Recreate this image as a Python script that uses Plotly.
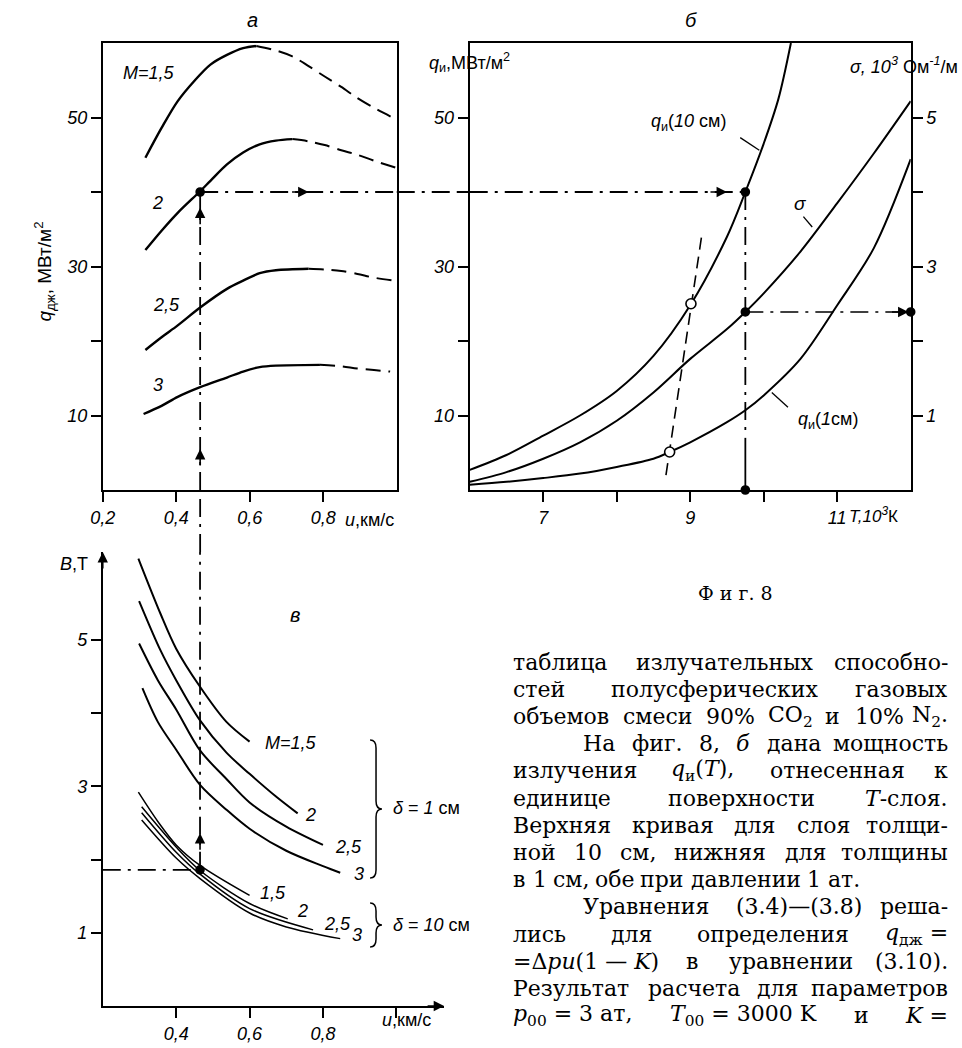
import re
import plotly.graph_objects as go

W, H = 962, 1048

# ---------------- panel а : q_дж (u), M = 1.5, 2, 2.5, 3 ----------------
a_u_m15 = [0.316, 0.360, 0.404, 0.449, 0.493, 0.538, 0.582, 0.618]
a_q_m15 = [44.6, 48.6, 52.2, 54.9, 57.1, 58.4, 59.3, 59.6]
a_u_m15_ext = [0.618, 0.671, 0.716, 0.760, 0.804, 0.849, 0.893, 0.938, 0.996]
a_q_m15_ext = [59.6, 59.0, 58.2, 56.9, 55.5, 54.1, 52.6, 51.3, 49.8]

a_u_m2 = [0.316, 0.360, 0.404, 0.465, 0.493, 0.538, 0.582, 0.627, 0.671, 0.716]
a_q_m2 = [32.2, 34.8, 37.2, 40.1, 41.5, 43.7, 45.3, 46.4, 46.9, 47.1]
a_u_m2_ext = [0.716, 0.760, 0.804, 0.849, 0.893, 0.938, 0.996]
a_q_m2_ext = [47.1, 46.8, 46.3, 45.6, 45.0, 44.2, 43.3]

a_u_m25 = [0.316, 0.360, 0.404, 0.465, 0.538, 0.582, 0.627, 0.671, 0.760]
a_q_m25 = [18.8, 20.5, 22.1, 24.5, 27.0, 28.1, 29.1, 29.5, 29.7]
a_u_m25_ext = [0.760, 0.804, 0.849, 0.893, 0.938, 0.996]
a_q_m25_ext = [29.7, 29.6, 29.4, 29.0, 28.5, 28.1]

a_u_m3 = [0.311, 0.360, 0.404, 0.465, 0.538, 0.582, 0.627, 0.671, 0.791]
a_q_m3 = [10.2, 11.3, 12.5, 13.8, 15.1, 15.9, 16.5, 16.7, 16.8]
a_u_m3_ext = [0.791, 0.849, 0.893, 0.938, 0.982]
a_q_m3_ext = [16.8, 16.6, 16.3, 16.1, 15.9]

a_labels = ["<i>M=1,5</i>", "<i>2</i>", "<i>2,5</i>", "<i>3</i>"]
a_label_u = [0.326, 0.350, 0.374, 0.350]
a_label_q = [56.0, 38.5, 24.8, 14.1]

# ---------------- panel б : q_и(T), σ(T) ----------------
b_T_q10 = [6.0, 6.5, 7.0, 7.5, 8.0, 8.5, 9.0, 9.5, 9.75, 10.0, 10.2, 10.37]
b_q10 = [2.7, 4.7, 7.3, 10.0, 13.3, 18.0, 24.8, 34.0, 40.0, 46.5, 52.5, 60.0]
b_T_sig = [6.0, 6.5, 7.0, 7.5, 8.0, 8.5, 9.0, 9.5, 9.75, 10.0, 10.5, 11.0, 11.5, 12.0]
b_sig = [0.11, 0.24, 0.42, 0.64, 0.93, 1.31, 1.76, 2.16, 2.39, 2.64, 3.20, 3.85, 4.52, 5.22]
b_T_q1 = [6.0, 6.5, 7.0, 7.5, 8.0, 8.5, 8.72, 9.0, 9.5, 9.75, 10.0, 10.5, 11.0, 11.5, 12.0]
b_q1 = [0.7, 1.1, 1.6, 2.2, 3.1, 4.2, 5.1, 6.4, 9.1, 10.7, 12.7, 17.6, 24.8, 32.5, 44.4]
b_T_dash = [8.67, 9.16]
b_q_dash = [2.0, 34.4]
b_T_open = [9.01, 8.72]
b_q_open = [25.0, 5.1]

# operating point
u_op = 0.465
q_op = 40.0
T_op = 9.75
sig_op = 2.39
B_op = 1.86

# ---------------- panel в : B(u) ----------------
c_u_d1_m15 = [0.297, 0.357, 0.400, 0.465, 0.537, 0.600]
c_B_d1_m15 = [6.11, 5.36, 4.88, 4.36, 3.88, 3.61]
c_u_d1_m2 = [0.299, 0.357, 0.400, 0.465, 0.537, 0.600, 0.672, 0.731]
c_B_d1_m2 = [5.53, 4.86, 4.45, 3.90, 3.46, 3.17, 2.86, 2.63]
c_u_d1_m25 = [0.299, 0.350, 0.400, 0.465, 0.537, 0.600, 0.700, 0.800]
c_B_d1_m25 = [4.95, 4.45, 4.05, 3.49, 3.10, 2.78, 2.45, 2.20]
c_u_d1_m3 = [0.308, 0.350, 0.400, 0.465, 0.537, 0.600, 0.700, 0.800, 0.847]
c_B_d1_m3 = [4.34, 3.88, 3.50, 3.02, 2.68, 2.42, 2.12, 1.91, 1.82]

c_u_d10_m15 = [0.297, 0.350, 0.400, 0.465, 0.600]
c_B_d10_m15 = [2.92, 2.52, 2.20, 1.92, 1.51]
c_u_d10_m2 = [0.306, 0.400, 0.465, 0.600, 0.704]
c_B_d10_m2 = [2.72, 2.17, 1.85, 1.40, 1.19]
c_u_d10_m25 = [0.306, 0.400, 0.465, 0.600, 0.773]
c_B_d10_m25 = [2.64, 2.10, 1.80, 1.33, 1.04]
c_u_d10_m3 = [0.306, 0.400, 0.465, 0.600, 0.700, 0.847]
c_B_d10_m3 = [2.54, 2.02, 1.74, 1.27, 1.08, 0.92]

c_labels = ["<i>M=1,5</i>", "<i>2</i>", "<i>2,5</i>", "<i>3</i>",
            "<i>1,5</i>", "<i>2</i>", "<i>2,5</i>", "<i>3</i>"]
c_label_u = [0.713, 0.767, 0.870, 0.897, 0.664, 0.745, 0.839, 0.893]
c_label_B = [3.59, 2.61, 2.17, 1.80, 1.54, 1.30, 1.12, 0.97]

# ---------------- text block: (indented, justified, words) ----------------
TEXT_LINES = [
    (False, True, ["таблица", "излучательных", "способно-"]),
    (False, True, ["стей", "полусферических", "газовых"]),
    (False, True, ["объемов", "смеси", "90%", "CO<sub>2</sub>", "и", "10%", "N<sub>2</sub>."]),
    (True, True, ["На", "фиг.", "8,", "<i>б</i>", "дана", "мощность"]),
    (False, True, ["излучения", "<i>q</i><sub>и</sub>(<i>T</i>),", "отнесенная", "к"]),
    (False, True, ["единице", "поверхности", "<i>T</i>-слоя."]),
    (False, True, ["Верхняя", "кривая", "для", "слоя", "толщи-"]),
    (False, True, ["ной", "10", "см,", "нижняя", "для", "толщины"]),
    (False, False, ["в", "1", "см,", "обе", "при", "давлении", "1", "ат."]),
    (True, True, ["Уравнения", "(3.4)—(3.8)", "реша-"]),
    (False, True, ["лись", "для", "определения", "<i>q</i><sub>дж</sub> ="]),
    (False, True, ["=Δ<i>pu</i>(1 — <i>K</i>)", "в", "уравнении", "(3.10)."]),
    (False, True, ["Результат", "расчета", "для", "параметров"]),
    (False, True, ["<i>p</i><sub>00</sub> = 3 ат,", "<i>T</i><sub>00</sub> = 3000 K",
                   "и", "<i>K</i> ="]),
]
TEXT_Y0 = 662
TEXT_DY = 27.2
TEXT_LEFT, TEXT_INDENT, TEXT_RIGHT = 505, 576, 950
TEXT_SIZE = 22

# approximate advance widths (em) of DejaVu Serif, used only to spread words
CW = {'а': .596, 'б': .612, 'в': .59, 'г': .53, 'д': .63, 'е': .592, 'ж': .93, 'з': .54,
      'и': .70, 'й': .70, 'к': .64, 'л': .66, 'м': .80, 'н': .71, 'о': .602, 'п': .71,
      'р': .64, 'с': .56, 'т': .58, 'у': .56, 'ф': .82, 'х': .58, 'ц': .71, 'ч': .66,
      'ш': .97, 'щ': .97, 'ъ': .66, 'ы': .88, 'ь': .60, 'э': .56, 'ю': .90, 'я': .64,
      'Н': .87, 'В': .77, 'У': .75, 'Р': .73, 'T': .73, 'K': .82, 'C': .73, 'O': .79,
      'N': .87, 'Δ': .77, 'p': .64, 'u': .64, 'q': .64, ' ': .318, '.': .318, ',': .318,
      '-': .338, '—': 1.0, '(': .39, ')': .39, '=': .838, '%': .95}
for d in "0123456789":
    CW[d] = .636


def est_width(html, size):
    w, sub = 0.0, False
    for tok in re.split(r"(<[^>]+>)", html):
        if tok.startswith("<"):
            if tok == "<sub>":
                sub = True
            elif tok == "</sub>":
                sub = False
            continue
        for ch in tok:
            w += CW.get(ch, 0.6) * (0.7 if sub else 1.0)
    return w * size * 0.975


# ---------------- layout helpers ----------------
def PX(x):
    return x / W


def PY(y):
    return 1 - y / H


A_X = [PX(91), PX(389)]
A_Y = [PY(490), PY(43)]
B_X = [PX(463), PX(910)]
B_Y = A_Y
C_X = [PX(91), PX(437)]
C_Y = [PY(1006), PY(552)]

SANS = "Liberation Sans"
SERIF = "DejaVu Serif"
BLK = "black"
DASHDOT = "18px,7px,3px,7px"

fig = go.Figure()


def line(x, y, xa, ya, width=2.2, dash="solid", shape="spline"):
    fig.add_trace(go.Scatter(
        x=x, y=y, xaxis=xa, yaxis=ya, mode="lines",
        line=dict(color=BLK, width=width, dash=dash, shape=shape, smoothing=0.9),
        hoverinfo="skip", showlegend=False))


def dots(x, y, xa, ya, size=8, open_=False):
    fig.add_trace(go.Scatter(
        x=x, y=y, xaxis=xa, yaxis=ya, mode="markers", cliponaxis=False,
        marker=dict(size=size, color="white" if open_ else BLK,
                    line=dict(color=BLK, width=1.6)),
        hoverinfo="skip", showlegend=False))


# panel а curves
for xs, ys, xe, ye in [(a_u_m15, a_q_m15, a_u_m15_ext, a_q_m15_ext),
                       (a_u_m2, a_q_m2, a_u_m2_ext, a_q_m2_ext),
                       (a_u_m25, a_q_m25, a_u_m25_ext, a_q_m25_ext),
                       (a_u_m3, a_q_m3, a_u_m3_ext, a_q_m3_ext)]:
    line(xs, ys, "x", "y", width=2.4)
    line(xe, ye, "x", "y", width=2.0, dash="15px,8px")
# connectors in а
line([u_op, 1.0], [q_op, q_op], "x", "y", width=1.8, dash=DASHDOT, shape="linear")
line([u_op, u_op], [0, q_op], "x", "y", width=1.8, dash=DASHDOT, shape="linear")
dots([u_op], [q_op], "x", "y")

# panel б curves
line(b_T_q10, b_q10, "x2", "y2", width=2.0)
line(b_T_q1, b_q1, "x2", "y2", width=2.0)
line(b_T_sig, b_sig, "x2", "y3", width=2.0)
line(b_T_dash, b_q_dash, "x2", "y2", width=1.6, dash="12px,7px", shape="linear")
line([6, T_op], [q_op, q_op], "x2", "y2", width=1.8, dash=DASHDOT, shape="linear")
line([T_op, T_op], [q_op, 8], "x2", "y2", width=1.8, dash=DASHDOT, shape="linear")
line([T_op, T_op], [7, 0], "x2", "y2", width=1.8, shape="linear")
line([T_op, 12], [sig_op, sig_op], "x2", "y3", width=1.6, dash=DASHDOT, shape="linear")
# leader lines
line([9.68, 9.94], [47.3, 45.6], "x2", "y2", width=1.3, shape="linear")
line([10.54, 10.66], [36.7, 35.3], "x2", "y2", width=1.3, shape="linear")
line([10.11, 10.33], [13.1, 11.1], "x2", "y2", width=1.3, shape="linear")
dots(b_T_open, b_q_open, "x2", "y2", size=10, open_=True)
dots([T_op, T_op], [q_op, 0], "x2", "y2")
dots([T_op, 12], [sig_op, sig_op], "x2", "y3")

# panel в curves
for xs, ys in [(c_u_d1_m15, c_B_d1_m15), (c_u_d1_m2, c_B_d1_m2),
               (c_u_d1_m25, c_B_d1_m25), (c_u_d1_m3, c_B_d1_m3)]:
    line(xs, ys, "x4", "y4", width=2.0)
for xs, ys in [(c_u_d10_m15, c_B_d10_m15), (c_u_d10_m2, c_B_d10_m2),
               (c_u_d10_m25, c_B_d10_m25), (c_u_d10_m3, c_B_d10_m3)]:
    line(xs, ys, "x4", "y4", width=1.5)
line([0.2, u_op], [B_op, B_op], "x4", "y4", width=1.8, dash=DASHDOT, shape="linear")
line([u_op, u_op], [B_op, 6.2], "x4", "y4", width=1.8, dash=DASHDOT, shape="linear")
dots([u_op], [B_op], "x4", "y4")

# ---------------- shapes (connectors across gaps, braces) ----------------
shapes = [
    dict(type="line", xref="x", yref="paper", x0=u_op, x1=u_op, y0=C_Y[1], y1=A_Y[0],
         line=dict(color=BLK, width=1.8, dash=DASHDOT)),
    dict(type="line", xref="paper", yref="y", x0=A_X[1], x1=B_X[0], y0=q_op, y1=q_op,
         line=dict(color=BLK, width=1.8, dash=DASHDOT)),
]


def brace(xl, yt, yb, w=12, r=8):
    xc, xr, ym = xl + w / 2, xl + w, (yt + yb) / 2
    p = lambda x, y: f"{PX(x):.5f},{PY(y):.5f}"
    return (f"M {p(xl, yt)} Q {p(xc, yt)} {p(xc, yt + r)} L {p(xc, ym - r)} "
            f"Q {p(xc, ym)} {p(xr, ym)} Q {p(xc, ym)} {p(xc, ym + r)} "
            f"L {p(xc, yb - r)} Q {p(xc, yb)} {p(xl, yb)}")


for yt, yb in [(740, 878), (903, 947)]:
    shapes.append(dict(type="path", xref="paper", yref="paper", path=brace(362, yt, yb),
                       line=dict(color=BLK, width=1.5)))

# ---------------- annotations ----------------
ann = []


def text(x, y, s, xref="paper", yref="paper", size=18, family=SANS, xanchor="center",
         yanchor="middle", angle=0):
    ann.append(dict(x=x, y=y, xref=xref, yref=yref, text=s, showarrow=False,
                    font=dict(family=family, size=size, color=BLK),
                    xanchor=xanchor, yanchor=yanchor, textangle=angle))


def arrow(x, y, xref, yref, direction):
    ax, ay = {"right": (-18, 0), "up": (0, 18)}[direction]
    ann.append(dict(x=x, y=y, xref=xref, yref=yref, text="", showarrow=True,
                    arrowhead=2, arrowsize=1.3, arrowwidth=1.6, arrowcolor=BLK,
                    ax=ax, ay=ay))


# titles
text(PX(243), PY(20), "<i>а</i>", size=20)
text(PX(687), PY(20), "<i>б</i>", size=20)
text(0.724, 5.34, "<i>в</i>", xref="x4", yref="y4", size=20)

# axis titles
text(PX(31), PY(272), "<i>q</i><sub>дж</sub>, МВт/м<sup>2</sup>", angle=-90, size=19)
text(PX(335), PY(520), "<i>u</i>,км/с", xanchor="left", size=18)
text(PX(420), PY(62), "<i>q</i><sub>и</sub>,МВт/м<sup>2</sup>", xanchor="left", size=18)
text(PX(960), PY(65), "<i>σ, 10</i><sup><i>3</i></sup> Ом<sup><i>-1</i></sup>/м",
     xanchor="right", size=18)
text(PX(845), PY(515), "<i>T,10</i><sup><i>3</i></sup>К", xanchor="left", size=17)
text(PX(62), PY(564), "<i>B</i>,Т", size=18)
text(PX(399), PY(1020), "<i>u</i>,км/с", size=18)

# curve labels
for s, u, q in zip(a_labels, a_label_u, a_label_q):
    text(u, q, s, xref="x", yref="y", size=18)
text(8.98, 49.3, "<i>q</i><sub>и</sub>(<i>10</i> см)", xref="x2", yref="y2", size=18)
text(10.5, 38.4, "<i>σ</i>", xref="x2", yref="y2", size=19)
text(10.87, 9.3, "<i>q</i><sub>и</sub>(<i>1</i>см)", xref="x2", yref="y2", size=18)
for s, u, b in zip(c_labels, c_label_u, c_label_B):
    text(u, b, s, xref="x4", yref="y4", size=18)
text(PX(383), PY(808), "<i>δ</i> = <i>1</i> см", xanchor="left", size=18)
text(PX(383), PY(925), "<i>δ</i> = <i>10</i> см", xanchor="left", size=18)

# arrows
arrow(0.76, q_op, "x", "y", "right")
arrow(u_op, 37.9, "x", "y", "up")
arrow(u_op, 5.5, "x", "y", "up")
arrow(9.5, q_op, "x2", "y2", "right")
arrow(11.97, sig_op, "x2", "y3", "right")
arrow(u_op, 2.36, "x4", "y4", "up")
arrow(1.13, 0, "x4", "y4", "right")
arrow(0.2, 6.2, "x4", "y4", "up")

# caption and body text (justified word by word)
text(PX(732), PY(593), "Ф и г. 8", family=SERIF, size=19)
for i, (indent, justify, words) in enumerate(TEXT_LINES):
    y = PY(TEXT_Y0 + i * TEXT_DY)
    left = TEXT_INDENT if indent else TEXT_LEFT
    widths = [est_width(wd, TEXT_SIZE) for wd in words]
    if justify and len(words) > 1:
        gap = (TEXT_RIGHT - left - sum(widths)) / (len(words) - 1)
    else:
        gap = CW[" "] * TEXT_SIZE
    x = left
    for j, (wd, wpx) in enumerate(zip(words, widths)):
        if justify and j == len(words) - 1 and len(words) > 1:
            text(PX(TEXT_RIGHT), y, wd, family=SERIF, size=TEXT_SIZE, xanchor="right")
        else:
            text(PX(x), y, wd, family=SERIF, size=TEXT_SIZE, xanchor="left")
        x += wpx + gap

# ---------------- axes ----------------
tickfont = dict(family=SANS, size=18, color=BLK)
common = dict(showgrid=False, zeroline=False, showline=True, linecolor=BLK, linewidth=2,
              ticks="outside", ticklen=10, tickwidth=1.5, tickcolor=BLK, tickfont=tickfont,
              fixedrange=True)

fig.update_layout(
    width=W, height=H, margin=dict(l=0, r=0, t=0, b=0),
    paper_bgcolor="white", plot_bgcolor="rgba(0,0,0,0)", showlegend=False,
    xaxis=dict(domain=A_X, range=[0.2, 1.0], anchor="y", mirror=True,
               tickvals=[0.2, 0.4, 0.6, 0.8],
               ticktext=["<i>0,2</i>", "<i>0,4</i>", "<i>0,6</i>", "<i>0,8</i>"], **common),
    yaxis=dict(domain=A_Y, range=[0, 60], anchor="x", mirror=True,
               tickvals=[10, 20, 30, 40, 50],
               ticktext=["<i>10</i>", "", "<i>30</i>", "", "<i>50</i>"], **common),
    xaxis2=dict(domain=B_X, range=[6, 12], anchor="y2", mirror=True,
                tickvals=[7, 8, 9, 10, 11],
                ticktext=["<i>7</i>", "", "<i>9</i>", "", "<i>11</i>"], **common),
    yaxis2=dict(domain=B_Y, range=[0, 60], anchor="x2",
                tickvals=[10, 20, 30, 40, 50],
                ticktext=["<i>10</i>", "", "<i>30</i>", "", "<i>50</i>"], **common),
    yaxis3=dict(overlaying="y2", side="right", range=[0, 6], anchor="x2",
                tickvals=[1, 2, 3, 4, 5],
                ticktext=["<i>1</i>", "", "<i>3</i>", "", "<i>5</i>"], **common),
    xaxis4=dict(domain=C_X, range=[0.2, 1.13], anchor="y4",
                tickvals=[0.4, 0.6, 0.8, 1.0],
                ticktext=["<i>0,4</i>", "<i>0,6</i>", "<i>0,8</i>", ""], **common),
    yaxis4=dict(domain=C_Y, range=[0, 6.2], anchor="x4",
                tickvals=[1, 2, 3, 4, 5],
                ticktext=["<i>1</i>", "", "<i>3</i>", "", "<i>5</i>"], **common),
    shapes=shapes, annotations=ann,
)

fig.write_html("out.html", config={"displayModeBar": False},
               post_script="document.body.style.margin='0';document.body.style.overflow='hidden';")
